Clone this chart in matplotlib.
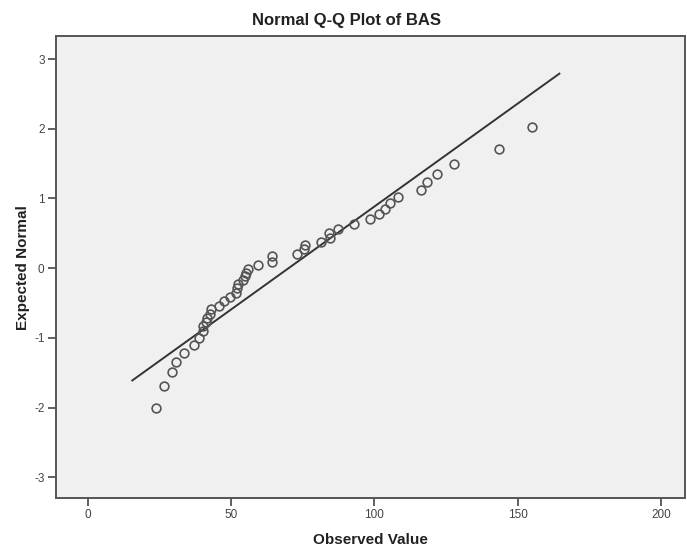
import numpy as np
import matplotlib.pyplot as plt

plt.rcParams['font.family'] = ['Liberation Sans', 'DejaVu Sans']
plt.rcParams['axes.unicode_minus'] = False

observed = [23.8, 26.6, 29.4, 30.7, 33.8, 37.2, 38.9,
            40.3, 40.4, 41.2, 41.8, 42.6, 43.0,
            46.0, 47.6, 49.7,
            51.9, 52.1, 52.4, 54.2, 54.9, 55.4, 56.1, 59.3,
            64.3, 64.3,
            73.2, 75.5, 75.9, 81.4, 84.4, 84.1, 87.2, 93.0, 98.5,
            101.6, 103.6, 105.3, 108.1,
            116.4, 118.4, 121.9, 127.6, 143.4, 155.0]
expected = [-2.00, -1.69, -1.49, -1.34, -1.21, -1.10, -1.00,
            -0.90, -0.83, -0.77, -0.71, -0.65, -0.59,
            -0.54, -0.47, -0.42,
            -0.35, -0.28, -0.23, -0.17, -0.11, -0.07, -0.01, 0.04,
            0.09, 0.17,
            0.21, 0.27, 0.33, 0.38, 0.44, 0.51, 0.565, 0.63, 0.70,
            0.78, 0.85, 0.94, 1.02,
            1.12, 1.23, 1.355, 1.50, 1.71, 2.02]

# reference line end points
line_x = [15.6, 164.5]
line_y = [-1.61, 2.79]

x_ticks = [0, 50, 100, 150, 200]
y_ticks = [-3, -2, -1, 0, 1, 2, 3]

fig = plt.figure(figsize=(6.87, 5.48), dpi=100)
ax = fig.add_axes([55.7 / 687, (548 - 498.3) / 548, (685 - 55.7) / 687, (498.3 - 36) / 548])
ax.set_facecolor('#f0f0f0')

ax.plot(line_x, line_y, color='#333333', lw=1.4, zorder=2)
ax.plot(observed, expected, 'o', ms=6.3, mfc='none', mec='#555555', mew=1.2, zorder=3)

ax.set_xlim(-11.1, 208.3)
ax.set_ylim(-3.30, 3.33)
ax.set_xticks(x_ticks)
ax.set_yticks(y_ticks)
ax.tick_params(direction='out', length=6, width=1.2, color='#444444',
               labelsize=8.5, labelcolor='#444444', pad=2)

for s in ax.spines.values():
    s.set_color('#555555')
    s.set_linewidth(1.4)

ax.set_xlabel('Observed Value', fontsize=11, fontweight='bold', color='#222222', labelpad=8)
ax.set_ylabel('Expected Normal', fontsize=11, fontweight='bold', color='#222222', labelpad=3)
fig.text(0.505, 1 - 20 / 548, 'Normal Q-Q Plot of BAS', ha='center', va='center',
         fontsize=12, fontweight='bold', color='#222222')

fig.savefig('out.png', dpi=100)
